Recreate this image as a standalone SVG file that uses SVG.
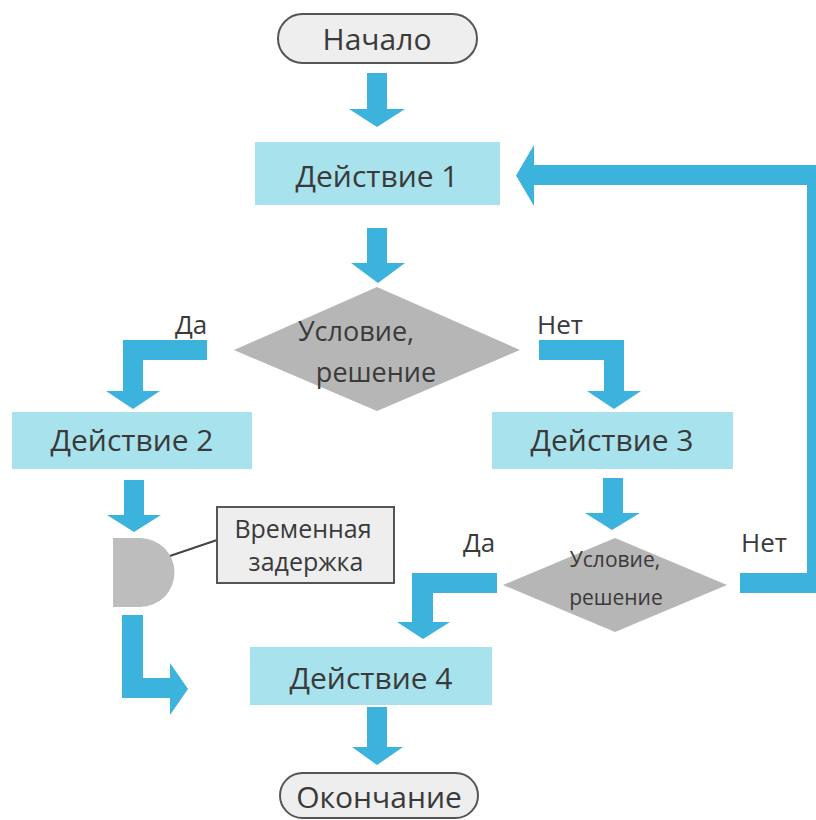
<svg xmlns="http://www.w3.org/2000/svg" width="816" height="820" viewBox="0 0 816 820">
  <style>
    text { font-family: "Open Sans", "Noto Sans", sans-serif; fill: #3a3a3a; text-anchor: middle; }
    .pill { fill: #eeeeee; stroke: #555555; stroke-width: 2; }
    .act { fill: #a8e2ec; }
    .cond { fill: #b6b6b6; }
    .arrow { fill: #3bb3dc; }
    .big { font-size: 30px; }
    .mid { font-size: 30px; }
    .lbl { font-size: 26px; }
    .cnd { font-size: 27px; }
    .small { font-size: 21px; }
    .note { font-size: 25px; }
  </style>
  <rect width="816" height="820" fill="#ffffff"/>

  <!-- connectors -->
  <g id="connectors">
    <!-- start to action 1 -->
    <path class="arrow" d="M367,73 H387 V109 H405 L377,127 L349,109 H367 Z"/>
    <!-- action 1 to condition -->
    <path class="arrow" d="M367,228 H387 V263 H405 L378,283 L351,263 H367 Z"/>
    <!-- condition: yes, to action 2 -->
    <path class="arrow" d="M207,340 V360 H143 V391 H160 L133,409 L106,391 H123 V340 Z"/>
    <!-- condition: no, to action 3 -->
    <path class="arrow" d="M539,340 H624 V391 H641 L614,409 L587,391 H604 V360 H539 Z"/>
    <!-- action 2 to delay -->
    <path class="arrow" d="M124,480 H144 V515 H161 L134,532 L107,515 H124 Z"/>
    <!-- delay to action 4 -->
    <path class="arrow" d="M122,615 H143 V678 H170 V663 L188,689 L170,715 V698 H122 Z"/>
    <!-- action 3 to condition 2 -->
    <path class="arrow" d="M603,478 H623 V513 H640 L612,530 L585,513 H603 Z"/>
    <!-- condition 2: yes, to action 4 -->
    <path class="arrow" d="M497,573 V593 H433 V622 H450 L423,639 L397,622 H412 V573 Z"/>
    <!-- condition 2: no, back to action 1 -->
    <path class="arrow" d="M740,573 H807 V185 H534 V206 L516,175.5 L534,145 V165 H827 V593 H740 Z"/>
    <!-- action 4 to end -->
    <path class="arrow" d="M367,707 H387 V747 H403 L377,765 L352,747 H367 Z"/>
    <!-- delay annotation leader -->
    <line x1="158" y1="560" x2="217" y2="540" stroke="#444444" stroke-width="2"/>
  </g>

  <g id="start">
    <rect class="pill" x="278" y="14" width="199" height="49" rx="24.5"/>
    <text class="big" x="377" y="50">Начало</text>
  </g>

  <g id="action1">
    <rect class="act" x="255" y="142" width="245" height="63"/>
    <text class="mid" x="377" y="187">Действие 1</text>
  </g>

  <g id="condition1">
    <polygon class="cond" points="234,350 377,287 520,350 377,411"/>
    <text class="cnd" x="356" y="341">Условие,</text>
    <text class="cnd" x="376" y="382">решение</text>
  </g>
  <text class="lbl" x="191" y="334">Да</text>
  <text class="lbl" x="560" y="334">Нет</text>

  <g id="action2">
    <rect class="act" x="12" y="412" width="240" height="57"/>
    <text class="mid" x="132" y="451">Действие 2</text>
  </g>

  <g id="action3">
    <rect class="act" x="492" y="412" width="241" height="57"/>
    <text class="mid" x="612" y="451">Действие 3</text>
  </g>

  <g id="delay">
    <path d="M113,538 H140 A34.5,34.5 0 0 1 140,607 H113 Z" fill="#bdbdbd"/>
  </g>

  <g id="delay-note">
    <rect x="217" y="507" width="177" height="76" fill="#eeeeee" stroke="#555555" stroke-width="2"/>
    <text class="note" x="303" y="538">Временная</text>
    <text class="note" x="306" y="571">задержка</text>
  </g>

  <g id="condition2">
    <polygon class="cond" points="503,585 615,538 727,585 615,632"/>
    <text class="small" x="615" y="567">Условие,</text>
    <text class="small" x="616" y="605">решение</text>
  </g>
  <text class="lbl" x="479" y="552">Да</text>
  <text class="lbl" x="764" y="552">Нет</text>

  <g id="action4">
    <rect class="act" x="250" y="647" width="242" height="58"/>
    <text class="mid" x="371" y="689">Действие 4</text>
  </g>

  <g id="end">
    <rect class="pill" x="280" y="773" width="198" height="45" rx="22.5"/>
    <text class="big" x="379" y="808">Окончание</text>
  </g>
</svg>
